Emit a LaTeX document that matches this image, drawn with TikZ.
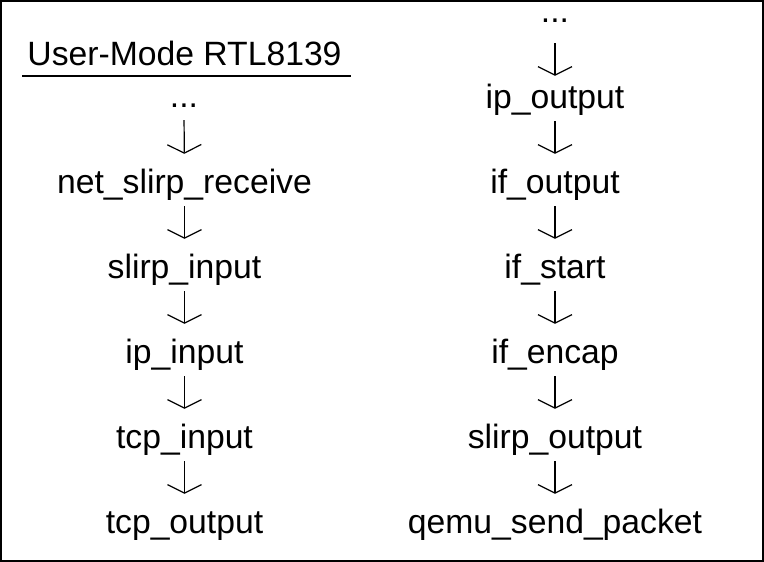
\documentclass[tikz,border=0pt]{standalone}
\usepackage{fontspec}
\setmainfont{Liberation Sans}
\usetikzlibrary{arrows.meta}
\begin{document}
\begin{tikzpicture}[x=1pt,y=-1pt,
  lbl/.style={inner sep=0pt, anchor=base, text height=25pt, text depth=9pt,
    font=\fontsize{33.7}{40}\selectfont},
  flow/.style={line width=1.2pt, -{Straight Barb[length=8.5pt,width=34pt,line width=1.2pt]},
    shorten <=4pt, shorten >=14pt}]
\useasboundingbox (0,0) rectangle (764,562);
\draw[line width=2pt] (1,1) rectangle (763,561);
% left column
\node[lbl] (title) at (184.5,65) {User-Mode RTL8139};
\draw[line width=2pt] ([shift={(-5,2)}]title.south west) -- ([shift={(9,2)}]title.south east);
\node[lbl] (l0) at (184,107) {...};
\node[lbl] (l1) at (184.5,193) {net\_slirp\_receive};
\node[lbl] (l2) at (184.5,278) {slirp\_input};
\node[lbl] (l3) at (184.5,363) {ip\_input};
\node[lbl] (l4) at (184.5,448) {tcp\_input};
\node[lbl] (l5) at (184.5,533) {tcp\_output};
% right column
\node[lbl, text height=8pt] (r0) at (555,23) {...};
\node[lbl] (r1) at (555,108) {ip\_output};
\node[lbl] (r2) at (555,193) {if\_output};
\node[lbl] (r3) at (555,278) {if\_start};
\node[lbl] (r4) at (555,363) {if\_encap};
\node[lbl] (r5) at (555,448) {slirp\_output};
\node[lbl] (r6) at (555,533) {qemu\_send\_packet};
\foreach \a/\b in {l0/l1,l1/l2,l2/l3,l3/l4,l4/l5,r1/r2,r2/r3,r3/r4,r4/r5,r5/r6}
  \draw[flow] (\a.south) -- (\b.north);
\draw[flow, shorten <=11pt, shorten >=7pt] (r0.south) -- (r1.north);
\end{tikzpicture}
\end{document}
